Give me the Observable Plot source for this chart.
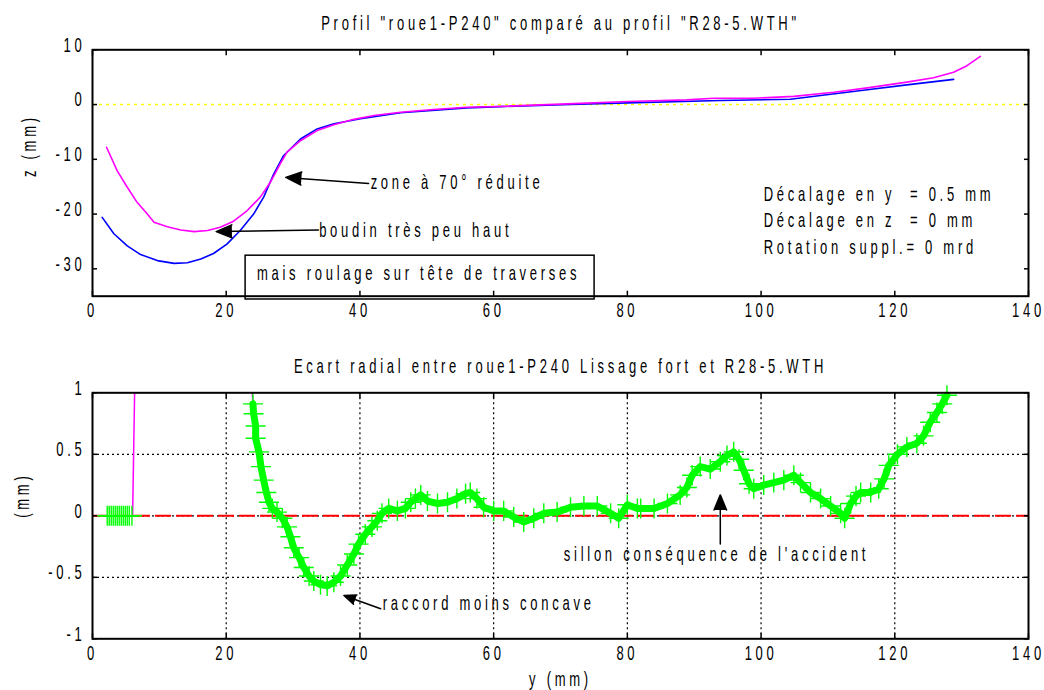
<!DOCTYPE html>
<html>
<head>
<meta charset="utf-8">
<script src="https://cdn.jsdelivr.net/npm/d3@7"></script>
<script src="https://cdn.jsdelivr.net/npm/@observablehq/plot@0.6"></script>
<style>
  body { margin: 0; background: #fff; }
  #chart svg { display: block; }
</style>
</head>
<body>
<div id="chart"></div>
<script>
// ---- Top panel: measured wheel profile vs reference profile, [y (mm), z (mm)] ----
const wheelProfile = [
  [2.1, -7.8], [3.7, -12.1], [5.2, -15.1], [6.7, -17.9], [8.2, -20.0], [9.2, -21.5],
  [11.2, -22.3], [13.2, -22.9], [15.2, -23.2], [17.2, -23.0], [19.1, -22.4], [21.1, -21.3],
  [23.1, -19.4], [25.1, -16.9], [26.6, -14.2], [28.1, -10.8], [29.1, -8.7], [31.1, -6.6],
  [33.6, -4.75], [36.1, -3.7], [39.1, -2.7], [42.1, -2.0], [46.1, -1.4], [51.0, -0.9],
  [56.0, -0.5], [62.0, -0.3], [71.0, 0.13], [80.0, 0.55], [88.9, 0.85], [92.9, 1.15],
  [98.9, 1.15], [104.9, 1.5], [110.9, 2.25], [115.9, 3.05], [121.8, 4.1], [125.8, 4.9],
  [128.8, 5.9], [130.8, 7.1], [132.8, 8.8]
];
const referenceProfile = [
  [1.45, -20.6], [3.2, -23.6], [5.2, -25.8], [7.2, -27.4], [9.7, -28.5], [12.2, -29.0],
  [14.2, -28.9], [16.2, -28.2], [18.1, -27.2], [20.1, -25.5], [22.1, -23.0], [24.1, -20.0],
  [25.6, -16.9], [27.1, -12.7], [28.6, -9.3], [31.1, -6.3], [33.6, -4.45], [36.1, -3.5],
  [40.1, -2.6], [46.1, -1.5], [56.0, -0.6], [61.0, -0.37], [71.5, 0.0], [80.0, 0.3],
  [93.9, 0.73], [104.4, 0.97], [108.9, 1.65], [115.9, 2.7], [121.8, 3.6], [128.8, 4.6]
];

// ---- Bottom panel: radial gap between the two profiles, [y (mm), gap (mm)] ----
const gapFlat = [
  [2.2, 0], [2.5, 0], [2.8, 0], [3.1, 0], [3.4, 0], [3.7, 0], [4.0, 0], [4.3, 0],
  [4.6, 0], [4.9, 0], [5.2, 0], [5.5, 0], [5.9, 0]
];
const gapCurve = [
  [24.0, 0.91], [24.1, 0.83], [24.4, 0.73], [24.4, 0.63], [24.9, 0.52], [25.2, 0.40],
  [25.6, 0.29], [26.0, 0.19], [26.4, 0.11], [26.9, 0.06], [27.6, 0.03], [28.4, -0.02],
  [29.1, -0.09], [29.6, -0.17], [30.1, -0.26], [30.9, -0.34], [31.6, -0.42], [32.4, -0.49],
  [33.1, -0.53], [34.1, -0.56], [35.1, -0.57], [36.1, -0.54], [37.1, -0.49], [38.1, -0.40],
  [39.1, -0.31], [39.8, -0.23], [40.8, -0.15], [41.8, -0.09], [42.6, -0.04], [43.3, 0.02],
  [44.3, 0.06], [45.6, 0.04], [46.8, 0.06], [47.6, 0.11], [48.3, 0.14], [49.1, 0.17],
  [50.1, 0.12], [51.6, 0.10], [53.1, 0.11], [54.5, 0.14], [55.8, 0.18], [56.5, 0.19],
  [57.5, 0.14], [58.5, 0.07], [60.0, 0.04], [61.5, 0.04], [63.0, -0.01], [64.5, -0.05],
  [66.0, -0.02], [67.5, 0.02], [69.5, 0.03], [71.5, 0.07], [73.5, 0.08], [75.5, 0.08],
  [77.5, 0.02], [78.7, -0.02], [80.0, 0.09], [81.5, 0.06], [82.0, 0.06], [84.0, 0.06],
  [86.0, 0.10], [87.9, 0.17], [88.9, 0.23], [89.7, 0.33], [90.9, 0.40], [92.4, 0.38],
  [93.9, 0.44], [94.9, 0.49], [95.9, 0.52], [96.7, 0.46], [97.4, 0.37], [98.2, 0.26],
  [98.9, 0.22], [100.4, 0.25], [101.9, 0.27], [103.4, 0.29], [104.9, 0.33], [105.9, 0.27],
  [107.4, 0.19], [108.9, 0.14], [110.4, 0.08], [111.9, 0.02], [112.5, -0.02], [113.4, 0.10],
  [114.2, 0.16], [114.9, 0.19], [116.4, 0.19], [117.6, 0.22], [118.4, 0.30], [119.1, 0.41],
  [120.4, 0.50], [121.8, 0.56], [123.3, 0.59], [124.3, 0.65], [125.3, 0.76], [126.3, 0.84],
  [127.1, 0.91], [127.8, 0.98]
];
// raw gap trace (leaves the axes between the two segments)
const gapRaw = [
  [2.2, 0], [6.0, 0], [6.3, 1.0], [6.3, null], [23.9, 1.0], ...gapCurve
];

// ---- Ticks ----
const xTicks = [0, 20, 40, 60, 80, 100, 120, 140];
const zTicks = [10, 0, -10, -20, -30];
const gapTicks = [1, 0.5, 0, -0.5, -1];
const gridXValues = [20, 40, 60, 80, 100, 120];
const gridYValues = [0.5, 0, -0.5];

// ---- Texts ----
const titleTop = "Profil \"roue1-P240\" comparé au profil \"R28-5.WTH\"";
const titleBottom = "Ecart radial entre roue1-P240 Lissage fort et R28-5.WTH";
const settingsLines = [
  {y: 100.4, z: -16.3, text: "Décalage en y  = 0.5 mm"},
  {y: 100.4, z: -21.2, text: "Décalage en z  = 0 mm"},
  {y: 100.4, z: -26.1, text: "Rotation suppl.= 0 mrd"}
];
const topNotes = [
  {y: 41.6, z: -14.2, text: "zone à 70° réduite"},
  {y: 33.9, z: -22.9, text: "boudin très peu haut"},
  {y: 24.6, z: -30.8, text: "mais roulage sur tête de traverses"}
];
const topArrows = [
  {y1: 41.3, z1: -14.4, y2: 28.9, z2: -13.3},
  {y1: 33.8, z1: -22.9, y2: 18.5, z2: -23.2}
];
const noteBox = [{y1: 22.9, y2: 75.1, z1: -27.6, z2: -35.6}];
const bottomNotes = [
  {y: 43.4, v: -0.715, text: "raccord moins concave"},
  {y: 70.5, v: -0.31, text: "sillon conséquence de l'accident"}
];
const bottomArrows = [
  {y1: 43.1, v1: -0.756, y2: 37.6, v2: -0.648},
  {y1: 93.9, v1: -0.23, y2: 93.9, v2: 0.17}
];

const FONT = "'Liberation Sans', Arial, Helvetica, sans-serif";
const SQUEEZE = 0.62;
const baseStyle = {
  fontFamily: FONT, fontSize: "21px", letterSpacing: "6px",
  background: "white", color: "black", overflow: "visible"
};
const fmt = (d) => String(d);
const blank = () => "";

// frame, inward ticks on all four sides, labels on bottom and left
function axes(yTicks) {
  return [
    Plot.frame({stroke: "black", strokeWidth: 2}),
    Plot.axisX(xTicks, {anchor: "bottom", tickSize: -5, tickFormat: blank, label: null, strokeWidth: 1.5}),
    Plot.axisX(xTicks, {anchor: "top", tickSize: -5, tickFormat: blank, label: null, strokeWidth: 1.5}),
    Plot.axisY(yTicks, {anchor: "left", tickSize: -5, tickFormat: blank, label: null, strokeWidth: 1.5}),
    Plot.axisY(yTicks, {anchor: "right", tickSize: -5, tickFormat: blank, label: null, strokeWidth: 1.5}),
    Plot.axisX(xTicks, {anchor: "bottom", tickSize: 0, tickPadding: 6, tickFormat: fmt, label: null}),
    Plot.axisY(yTicks, {anchor: "left", tickSize: 0, tickPadding: 7, dy: -5, tickFormat: fmt, label: null})
  ];
}

const topPlot = Plot.plot({
  width: 1044, height: 340,
  marginLeft: 92, marginRight: 16, marginTop: 49.3, marginBottom: 44.3,
  x: {domain: [0, 140]},
  y: {domain: [-35, 10]},
  style: baseStyle,
  marks: [
    Plot.ruleY([0], {stroke: "#ffff00", strokeWidth: 1.5, strokeDasharray: "3,4"}),
    Plot.line(referenceProfile, {x: (d) => d[0], y: (d) => d[1], stroke: "#0000ff", strokeWidth: 1.6}),
    Plot.line(wheelProfile, {x: (d) => d[0], y: (d) => d[1], stroke: "#ff00ff", strokeWidth: 1.6}),
    ...axes(zTicks),
    Plot.text([titleTop], {frameAnchor: "top", dy: -27, lineAnchor: "middle"}),
    Plot.text(["z (mm)"], {frameAnchor: "left", dx: -63, dy: 4, rotate: -90, lineAnchor: "middle"}),
    Plot.rect(noteBox, {x1: "y1", x2: "y2", y1: "z1", y2: "z2", fill: "none", stroke: "black", strokeWidth: 1.5}),
    Plot.arrow(topArrows, {x1: "y1", y1: "z1", x2: "y2", y2: "z2", stroke: "black", fill: "black", strokeWidth: 1.5, headLength: 17, headAngle: 45}),
    Plot.text(topNotes, {x: "y", y: "z", text: "text", textAnchor: "start", lineAnchor: "middle"}),
    Plot.text(settingsLines, {x: "y", y: "z", text: "text", textAnchor: "start", lineAnchor: "middle"})
  ]
});

const bottomPlot = Plot.plot({
  width: 1044, height: 350,
  marginLeft: 92, marginRight: 16, marginTop: 52.3, marginBottom: 51.7,
  x: {domain: [0, 140]},
  y: {domain: [-1, 1]},
  style: baseStyle,
  marks: [
    Plot.gridX(gridXValues, {stroke: "black", strokeOpacity: 1, strokeWidth: 1.2, strokeDasharray: "2,3"}),
    Plot.gridY(gridYValues, {stroke: "black", strokeOpacity: 1, strokeWidth: 1.2, strokeDasharray: "2,3"}),
    Plot.ruleY([0], {stroke: "#ff0000", strokeWidth: 2, strokeDasharray: "16,5"}),
    Plot.line(gapRaw, {x: (d) => d[0], y: (d) => d[1], stroke: "#ff00ff", strokeWidth: 1.5}),
    Plot.line(gapCurve, {x: (d) => d[0], y: (d) => d[1], stroke: "#00ff00", strokeWidth: 7}),
    Plot.dot(gapCurve, {x: (d) => d[0], y: (d) => d[1], symbol: "plus", r: 6.5, stroke: "#00ff00", strokeWidth: 1.4}),
    Plot.dot(gapFlat, {x: (d) => d[0], y: (d) => d[1], symbol: "plus", r: 6.5, stroke: "#00ff00", strokeWidth: 1.4}),
    ...axes(gapTicks),
    Plot.text([titleBottom], {frameAnchor: "top", dy: -27, lineAnchor: "middle"}),
    Plot.text(["(mm)"], {frameAnchor: "left", dx: -70, dy: 2, rotate: -90, lineAnchor: "middle"}),
    Plot.text(["y (mm)"], {frameAnchor: "bottom", dy: 40, lineAnchor: "middle"}),
    Plot.arrow(bottomArrows, {x1: "y1", y1: "v1", x2: "y2", y2: "v2", stroke: "black", fill: "black", strokeWidth: 1.5, headLength: 17, headAngle: 45}),
    Plot.text(bottomNotes, {x: "y", y: "v", text: "text", textAnchor: "start", lineAnchor: "middle"})
  ]
});

// condensed lettering: squeeze every label horizontally around its anchor
for (const svg of [topPlot, bottomPlot]) {
  svg.querySelectorAll("text").forEach((t) => {
    const tr = t.getAttribute("transform") || "";
    t.setAttribute("transform", (tr + ` scale(${SQUEEZE},1)`).trim());
  });
}

const chart = document.getElementById("chart");
chart.appendChild(topPlot);
chart.appendChild(bottomPlot);
</script>
</body>
</html>
